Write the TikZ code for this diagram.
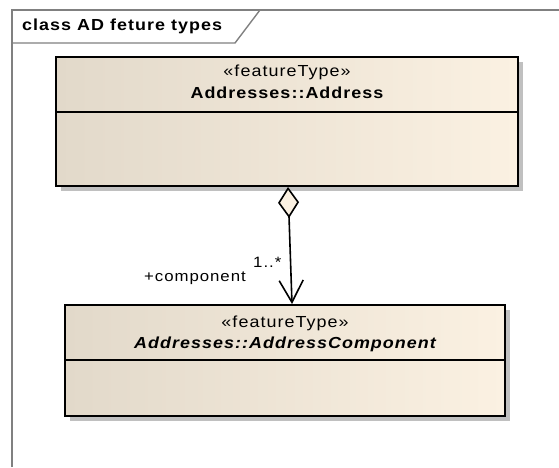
\documentclass[tikz,border=0pt]{standalone}
\usepackage{fontspec}
\setmainfont{Liberation Sans}[FakeStretch=1.12, LetterSpace=6.5]
\usetikzlibrary{arrows.meta, positioning, shadows}
\definecolor{eaframe}{RGB}{128, 128, 128}
\definecolor{classleft}{RGB}{226, 217, 202}
\definecolor{classright}{RGB}{251, 241, 226}
\definecolor{classshadow}{RGB}{192, 192, 192}

\begin{document}
\begin{tikzpicture}[x=1pt, y=-1pt,
    classbox/.style={rectangle, draw, line width=2pt, left color=classleft, right color=classright, inner sep=0pt,
        drop shadow={shadow xshift=5pt, shadow yshift=-5pt, fill=classshadow, opacity=1}},
    stereo/.style={font=\fontsize{16}{18}\selectfont, inner sep=0pt},
    classname/.style={font=\fontsize{16}{18}\selectfont\bfseries, inner sep=0pt},
    rolelabel/.style={font=\fontsize{15}{17}\selectfont, inner sep=0pt},
    frameline/.style={draw=eaframe, line width=1.4pt},
    assoc/.style={line width=1.6pt, {Diamond[length=31pt, width=21pt, fill=classright, line width=1.6pt]}-{Straight Barb[length=22pt, width=24pt, line width=1.6pt]}}
]
\useasboundingbox (0,0) rectangle (559,467);

% diagram frame
\draw[frameline] (12,467) -- (12,10) -- (559,10);
\draw[frameline] (12,43) -- (235,43) -- (260,10);
\node[classname, anchor=west] (title) at (22,26) {class AD feture types};

% classes
\node[classbox, minimum width=462pt, minimum height=129pt] (address) at (287,121.5) {};
\node[stereo] (addressstereo) at (287,72) {«featureType»};
\node[classname] (addressname) at (287,93) {Addresses::Address};
\draw[line width=1.6pt] (address.north west) ++(0,56) -- ++(462,0);

\node[classbox, minimum width=440pt, minimum height=111pt] (component) at (285,360.5) {};
\node[stereo] (componentstereo) at (285,323) {«featureType»};
\node[classname, font=\fontsize{16}{18}\selectfont\bfseries\itshape] (componentname) at (285,344) {Addresses::AddressComponent};
\draw[line width=1.6pt] (component.north west) ++(0,56) -- ++(440,0);

% aggregation
\draw[assoc] ([xshift=1pt]address.south) -- ([xshift=7pt]component.north);
\node[rolelabel, anchor=west] (mult) at (253,262) {1..*};
\node[rolelabel, anchor=east] (role) at (246,278) {+component};

\end{tikzpicture}
\end{document}
